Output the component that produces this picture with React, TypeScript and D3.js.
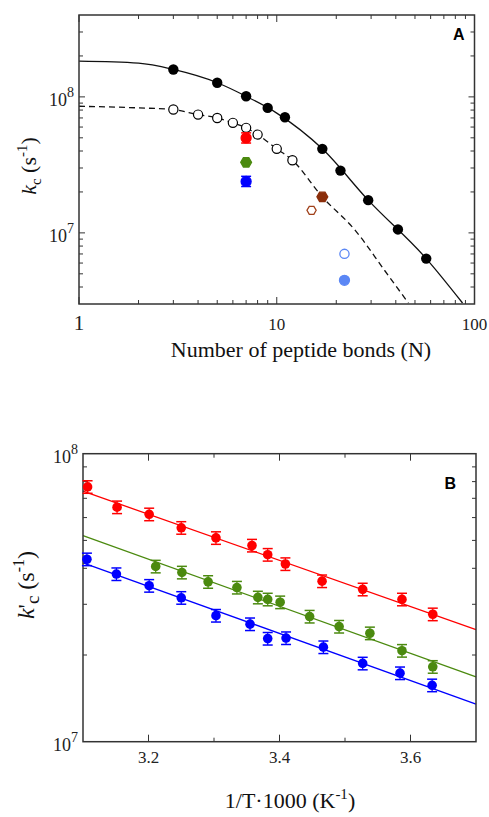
import React, { useRef, useEffect } from "react";
import * as d3 from "d3";

// Panel A: k_c against number of peptide bonds
const bondsFilled = [3, 5, 7, 9, 11, 17, 21, 29, 41, 57];
const kFilled = [1.59e8, 1.27e8, 1.01e8, 8.3e7, 7.08e7, 4.15e7, 2.87e7, 1.74e7, 1.06e7, 6.47e6];
const bondsOpen = [3, 4, 5, 6, 7, 8, 10, 12];
const kOpen = [8.07e7, 7.41e7, 7.0e7, 6.44e7, 5.92e7, 5.28e7, 4.15e7, 3.42e7];

// fitted curves
const solidFitN = [1, 2, 3, 5, 7, 10, 17, 29, 57, 87];
const solidFitK = [1.83e8, 1.77e8, 1.59e8, 1.27e8, 1.01e8, 7.6e7, 4.15e7, 1.74e7, 6.47e6, 3.05e6];
const dashedFitN = [1, 2, 3, 4, 5, 6, 7, 8, 10, 12, 17, 25, 35, 46.3];
const dashedFitK = [8.53e7, 8.3e7, 8.07e7, 7.41e7, 7.0e7, 6.44e7, 5.92e7, 5.28e7, 4.15e7, 3.42e7, 1.84e7, 1.04e7, 5.33e6, 3.05e6];

// single coloured points
const extraN = [7, 7, 7, 17, 15, 22, 22];
const extraK = [4.99e7, 3.3e7, 2.39e7, 1.84e7, 1.466e7, 7.01e6, 4.48e6];

// Panel B: k'_c against 1/T*1000
const invTRed = [3.107, 3.152, 3.201, 3.25, 3.303, 3.358, 3.382, 3.409, 3.465, 3.527, 3.587, 3.634];
const kRed = [7.67e7, 6.52e7, 6.16e7, 5.53e7, 5.1e7, 4.8e7, 4.46e7, 4.14e7, 3.61e7, 3.38e7, 3.12e7, 2.77e7];
const invTGreen = [3.211, 3.251, 3.291, 3.335, 3.367, 3.382, 3.401, 3.446, 3.491, 3.538, 3.587, 3.634];
const kGreen = [4.06e7, 3.87e7, 3.59e7, 3.43e7, 3.17e7, 3.12e7, 3.05e7, 2.72e7, 2.51e7, 2.38e7, 2.07e7, 1.82e7];
const invTBlue = [3.106, 3.151, 3.201, 3.25, 3.303, 3.355, 3.382, 3.41, 3.467, 3.527, 3.584, 3.633];
const kBlue = [4.3e7, 3.82e7, 3.48e7, 3.16e7, 2.74e7, 2.56e7, 2.28e7, 2.29e7, 2.13e7, 1.87e7, 1.73e7, 1.57e7];
const fitX = [3.1, 3.7];
const fitRed = [7.41e7, 2.45e7];
const fitGreen = [5.19e7, 1.68e7];
const fitBlue = [4.18e7, 1.35e7];
const relErr = 0.05;

const SERIF = "'Liberation Serif', 'Times New Roman', serif";
const SANS = "'Liberation Sans', Arial, sans-serif";
const AXIS = "#333";

const hexPath = (r) => {
  const pts = d3.range(6).map(i => {
    const a = (Math.PI / 3) * i;
    return [r * Math.cos(a), r * Math.sin(a)];
  });
  return "M" + pts.map(p => p.join(",")).join("L") + "Z";
};

const drawFrame = (g, w, h, xs, ys, xMajor, xMinor, yMajor, yMinor) => {
  const ticks = g.append("g").attr("stroke", AXIS).attr("stroke-width", 1);
  const xt = (v, len) => {
    ticks.append("line").attr("x1", xs(v)).attr("x2", xs(v)).attr("y1", h).attr("y2", h - len);
    ticks.append("line").attr("x1", xs(v)).attr("x2", xs(v)).attr("y1", 0).attr("y2", len);
  };
  const yt = (v, len) => {
    ticks.append("line").attr("x1", 0).attr("x2", len).attr("y1", ys(v)).attr("y2", ys(v));
    ticks.append("line").attr("x1", w).attr("x2", w - len).attr("y1", ys(v)).attr("y2", ys(v));
  };
  xMajor.forEach(v => xt(v, 7));
  xMinor.forEach(v => xt(v, 4));
  yMajor.forEach(v => yt(v, 6));
  yMinor.forEach(v => yt(v, 4));
  g.append("rect").attr("width", w).attr("height", h)
    .attr("fill", "none").attr("stroke", AXIS).attr("stroke-width", 1.5);
};

const powLabel = (g, x, y, exp) => {
  const t = g.append("text").attr("x", x).attr("y", y)
    .attr("font-family", SERIF).attr("font-size", 18).attr("text-anchor", "end").attr("fill", "#222");
  t.append("tspan").text("10");
  t.append("tspan").attr("dy", -9).attr("font-size", 14).text(exp);
};

const App = () => {
  const ref = useRef(null);

  useEffect(() => {
    const svg = d3.select(ref.current);
    svg.selectAll("*").remove();

    // ---------- Panel A ----------
    const A = { left: 79, top: 15, w: 395.5, h: 289 };
    const xA = d3.scaleLog().domain([1, 100]).range([0, A.w]);
    const yA = d3.scaleLog().domain([3e6, 4e8]).range([A.h, 0]);
    const gA = svg.append("g").attr("transform", `translate(${A.left},${A.top})`);

    gA.append("clipPath").attr("id", "clipA")
      .append("rect").attr("width", A.w).attr("height", A.h);

    const lineA = d3.line().x(d => xA(d[0])).y(d => yA(d[1])).curve(d3.curveMonotoneX);
    gA.append("path").attr("clip-path", "url(#clipA)")
      .attr("d", lineA(solidFitN.map((n, i) => [n, solidFitK[i]])))
      .attr("fill", "none").attr("stroke", "#111").attr("stroke-width", 1.3);
    gA.append("path").attr("clip-path", "url(#clipA)")
      .attr("d", lineA(dashedFitN.map((n, i) => [n, dashedFitK[i]])))
      .attr("fill", "none").attr("stroke", "#111").attr("stroke-width", 1.3)
      .attr("stroke-dasharray", "6,4");

    drawFrame(gA, A.w, A.h, xA, yA,
      [1, 10, 100],
      [2, 3, 4, 5, 6, 7, 8, 9, 20, 30, 40, 50, 60, 70, 80, 90],
      [1e7, 1e8],
      [4e6, 5e6, 6e6, 7e6, 8e6, 9e6, 2e7, 3e7, 4e7, 5e7, 6e7, 7e7, 8e7, 9e7, 2e8, 3e8]);

    gA.selectAll(".filled").data(bondsFilled).enter().append("circle")
      .attr("cx", d => xA(d)).attr("cy", (d, i) => yA(kFilled[i]))
      .attr("r", 5.2).attr("fill", "#000");
    gA.selectAll(".open").data(bondsOpen).enter().append("circle")
      .attr("cx", d => xA(d)).attr("cy", (d, i) => yA(kOpen[i]))
      .attr("r", 4.6).attr("fill", "#fff").attr("stroke", "#000").attr("stroke-width", 1.2);

    const extraColor = ["#ff0000", "#4b8a0f", "#0000ff", "#8b2e0a", "#a0401a", "#5b87f5", "#5b87f5"];
    const extraShape = ["circle", "hex", "circle", "hex", "hex", "circle", "circle"];
    const extraFilled = [true, true, true, true, false, false, true];
    const extraBars = [true, false, true, false, false, false, false];
    extraN.forEach((n, i) => {
      const cx = xA(n), cy = yA(extraK[i]), c = extraColor[i];
      if (extraBars[i]) {
        const y1 = yA(extraK[i] * 1.09), y2 = yA(extraK[i] / 1.09);
        gA.append("line").attr("x1", cx).attr("x2", cx).attr("y1", y1).attr("y2", y2).attr("stroke", c).attr("stroke-width", 1.2);
        [y1, y2].forEach(yy => gA.append("line").attr("x1", cx - 5).attr("x2", cx + 5)
          .attr("y1", yy).attr("y2", yy).attr("stroke", c).attr("stroke-width", 1.5));
      }
      if (extraShape[i] === "hex") {
        gA.append("path").attr("d", hexPath(extraFilled[i] ? 5.4 : 4.6))
          .attr("transform", `translate(${cx},${cy})`)
          .attr("fill", extraFilled[i] ? c : "#fff").attr("stroke", c).attr("stroke-width", 1.3);
      } else {
        gA.append("circle").attr("cx", cx).attr("cy", cy).attr("r", extraFilled[i] ? 5 : 4.6)
          .attr("fill", extraFilled[i] ? c : "#fff").attr("stroke", c).attr("stroke-width", 1.3);
      }
    });

    // axis labels A
    [1, 10, 100].forEach(v => {
      gA.append("text").attr("x", xA(v)).attr("y", A.h + 26)
        .attr("text-anchor", "middle").attr("font-family", SERIF)
        .attr("font-size", v === 1 ? 21 : 17).attr("fill", "#222").text(v);
    });
    powLabel(gA, -5, yA(1e8) + 9, "8");
    powLabel(gA, -5, yA(1e7) + 9, "7");
    gA.append("text").attr("x", A.w - 10).attr("y", 25).attr("text-anchor", "end")
      .attr("font-family", SANS).attr("font-weight", "bold").attr("font-size", 16).text("A");

    svg.append("text").attr("x", 301).attr("y", 357).attr("text-anchor", "middle")
      .attr("font-family", SERIF).attr("font-size", 22).attr("fill", "#111")
      .text("Number of peptide bonds (N)");

    const tA = svg.append("text").attr("transform", "translate(36,166) rotate(-90)")
      .attr("text-anchor", "middle").attr("font-family", SERIF).attr("font-size", 22).attr("fill", "#111");
    tA.append("tspan").attr("font-style", "italic").text("k");
    tA.append("tspan").attr("font-size", 15).attr("dy", 5).text("c");
    tA.append("tspan").attr("dy", -5).text(" (s");
    tA.append("tspan").attr("font-size", 15).attr("dy", -9).text("-1");
    tA.append("tspan").attr("dy", 9).text(")");

    // ---------- Panel B ----------
    const B = { left: 83, top: 453.7, w: 393, h: 288 };
    const xB = d3.scaleLinear().domain([3.1, 3.7]).range([0, B.w]);
    const yB = d3.scaleLog().domain([1e7, 1e8]).range([B.h, 0]);
    const gB = svg.append("g").attr("transform", `translate(${B.left},${B.top})`);

    const series = [
      { x: invTRed, k: kRed, fit: fitRed, color: "#ff0000" },
      { x: invTGreen, k: kGreen, fit: fitGreen, color: "#4b8a0f" },
      { x: invTBlue, k: kBlue, fit: fitBlue, color: "#0000ff" },
    ];
    const lineB = d3.line().x(d => xB(d[0])).y(d => yB(d[1]));
    series.forEach(s => {
      gB.append("path").attr("d", lineB(fitX.map((x, i) => [x, s.fit[i]])))
        .attr("fill", "none").attr("stroke", s.color).attr("stroke-width", 1.3);
    });

    drawFrame(gB, B.w, B.h, xB, yB,
      [3.2, 3.4, 3.6], [3.3, 3.5],
      [],
      [2e7, 3e7, 4e7, 5e7, 6e7, 7e7, 8e7, 9e7]);

    series.forEach(s => {
      const g = gB.append("g");
      s.x.forEach((x, i) => {
        const cx = xB(x), k = s.k[i];
        const y1 = yB(k * (1 + relErr)), y2 = yB(k * (1 - relErr));
        g.append("line").attr("x1", cx).attr("x2", cx).attr("y1", y1).attr("y2", y2)
          .attr("stroke", s.color).attr("stroke-width", 1.2);
        [y1, y2].forEach(yy => g.append("line").attr("x1", cx - 5).attr("x2", cx + 5)
          .attr("y1", yy).attr("y2", yy).attr("stroke", s.color).attr("stroke-width", 1.5));
        g.append("circle").attr("cx", cx).attr("cy", yB(k)).attr("r", 4.8).attr("fill", s.color);
      });
    });

    [3.2, 3.4, 3.6].forEach(v => {
      gB.append("text").attr("x", xB(v)).attr("y", B.h + 21).attr("text-anchor", "middle")
        .attr("font-family", SERIF).attr("font-size", 17).attr("fill", "#222").text(v.toFixed(1));
    });
    powLabel(gB, -5, 9, "8");
    powLabel(gB, -5, B.h + 9, "7");
    gB.append("text").attr("x", B.w - 20).attr("y", 35).attr("text-anchor", "end")
      .attr("font-family", SANS).attr("font-weight", "bold").attr("font-size", 16).text("B");

    const xt = svg.append("text").attr("x", 290).attr("y", 808).attr("text-anchor", "middle")
      .attr("font-family", SERIF).attr("font-size", 22).attr("fill", "#111");
    xt.append("tspan").text("1/T\u00b71000 (K");
    xt.append("tspan").attr("font-size", 15).attr("dy", -9).text("-1");
    xt.append("tspan").attr("dy", 9).text(")");

    const tB = svg.append("text").attr("transform", "translate(34,585) rotate(-90)")
      .attr("text-anchor", "middle").attr("font-family", SERIF).attr("font-size", 24).attr("fill", "#111");
    tB.append("tspan").attr("font-style", "italic").text("k");
    tB.append("tspan").text("'");
    tB.append("tspan").attr("font-size", 19).attr("dy", 5).text("c");
    tB.append("tspan").attr("dy", -5).text(" (s");
    tB.append("tspan").attr("font-size", 16).attr("dy", -10).text("-1");
    tB.append("tspan").attr("dy", 10).text(")");
  }, []);

  return (
    <svg ref={ref} width={489} height={817}
      style={{ position: "absolute", left: 0, top: 0, background: "#fff" }} />
  );
};

export default App;
